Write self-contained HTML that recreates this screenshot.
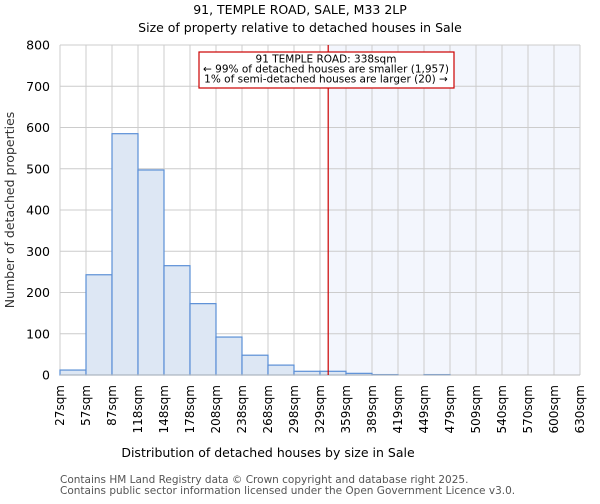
<!DOCTYPE html>
<html><head><meta charset="utf-8"><style>
body{margin:0;background:#fff;font-family:"DejaVu Sans","Liberation Sans",sans-serif}
</style></head><body>
<svg width="600" height="500" xmlns="http://www.w3.org/2000/svg" font-family="DejaVu Sans, Liberation Sans, sans-serif">
<text x="300" y="14" text-anchor="middle" font-size="12.5">91, TEMPLE ROAD, SALE, M33 2LP</text>
<text x="300" y="32" text-anchor="middle" font-size="12.5">Size of property relative to detached houses in Sale</text>
<g id="plot"></g>
<text x="268" y="457" text-anchor="middle" font-size="12.5">Distribution of detached houses by size in Sale</text>
<text x="14" y="210" text-anchor="middle" font-size="12.5" transform="rotate(-90 14 210)" fill="#333">Number of detached properties</text>
<text x="60" y="483" font-size="10.5" fill="#555">Contains HM Land Registry data © Crown copyright and database right 2025.</text>
<text x="60" y="494" font-size="10.5" fill="#555">Contains public sector information licensed under the Open Government Licence v3.0.</text>
</svg>
<script>
const xLabels=["27sqm","57sqm","87sqm","118sqm","148sqm","178sqm","208sqm","238sqm","268sqm","298sqm","329sqm","359sqm","389sqm","419sqm","449sqm","479sqm","509sqm","540sqm","570sqm","600sqm","630sqm"];
const binStarts=[27,57,87,118,148,178,208,238,268,298,329,359,389,419,449,479,509,540,570,600];
const counts=[12,243,585,497,265,173,92,48,24,9,9,4,1,0,1,0,0,0,0,0];
const yTicks=[0,100,200,300,400,500,600,700,800];
const propertySize=338;
const NS="http://www.w3.org/2000/svg";
const L=60,R=580,T=45,B=375,xMin=27,xMax=630,yMax=800;
const xs=v=>L+(v-xMin)/(xMax-xMin)*(R-L);
const ys=v=>B-v/yMax*(B-T);
const g=document.getElementById('plot');
function mk(t,a){const e=document.createElementNS(NS,t);for(const k in a)e.setAttribute(k,a[k]);g.appendChild(e);return e;}
let e=mk('rect',{x:xs(propertySize),y:T,width:R-xs(propertySize),height:B-T,fill:'#f3f6fd'});


xLabels.forEach((lab,i)=>{const x=L+i*(R-L)/(xLabels.length-1);
 const l=mk('line',{x1:x,x2:x,y1:T,y2:B,stroke:'#cccccc','stroke-width':1});
 
 
 const t=mk('text',{x:0,y:0,'font-size':12,'text-anchor':'end',transform:`translate(${x+4},${B+10}) rotate(-90)`});
 t.textContent=lab;
 
 
});
yTicks.forEach(v=>{const y=ys(v);
 const l=mk('line',{x1:L,x2:R,y1:y,y2:y,stroke:'#cccccc','stroke-width':1});
 
 
 const t=mk('text',{x:L-10,y:y+4.5,'font-size':12.5,'text-anchor':'end'});
 t.textContent=v;
 
 
});
const bw=(R-L)/binStarts.length;
counts.forEach((c,i)=>{if(c<=0)return;const x=L+i*bw;
 const r=mk('rect',{x:x,y:ys(c),width:bw,height:B-ys(c),fill:'#dde7f4',stroke:'#5b8fd6','stroke-width':1.2});
 
 
});
e=mk('line',{x1:L,x2:R,y1:B,y2:B,stroke:'#bbbbbb','stroke-width':1});


const px=xs(propertySize);
e=mk('line',{x1:px,x2:px,y1:T,y2:B,stroke:'#cc0000','stroke-width':1.2});


e=mk('rect',{x:199,y:52,width:255,height:36,fill:'#fff',stroke:'#cc0000','stroke-width':1.2});


["91 TEMPLE ROAD: 338sqm","← 99% of detached houses are smaller (1,957)","1% of semi-detached houses are larger (20) →"].forEach((s,i)=>{
 const t=mk('text',{x:326,y:62.5+i*10,'font-size':10.5,'text-anchor':'middle'});t.textContent=s;
 
 
});
</script>
</body></html>
